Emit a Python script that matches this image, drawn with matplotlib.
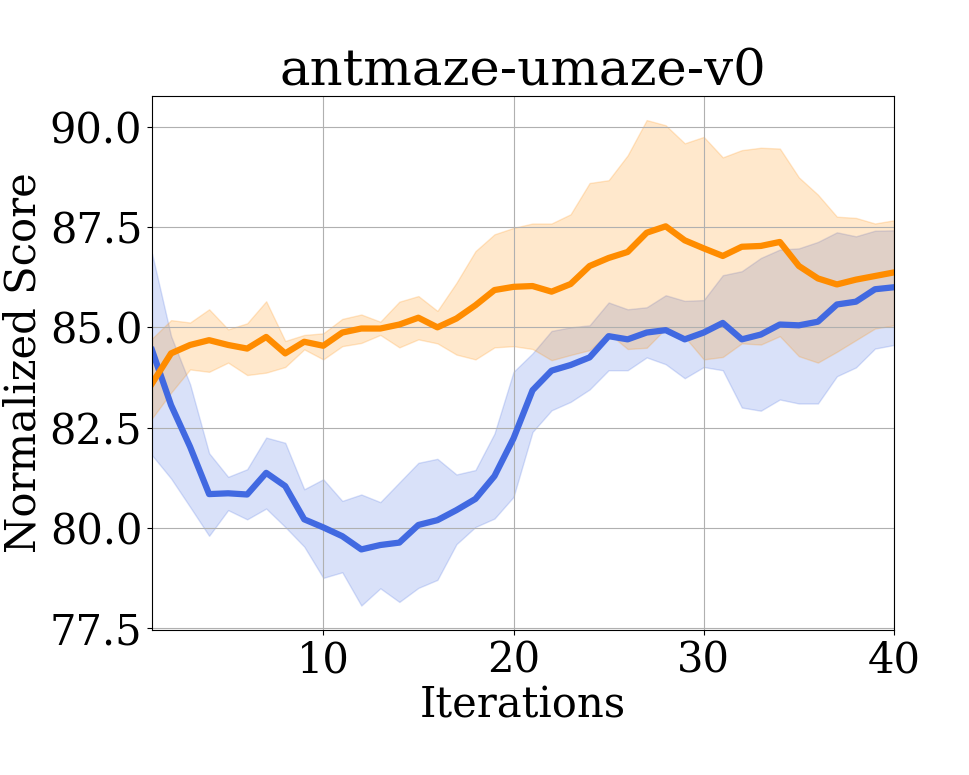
import matplotlib
matplotlib.use("Agg")
import matplotlib.pyplot as plt
import numpy as np

iterations = np.arange(1, 41)

# blue run: mean and band
blue_mean = [84.43, 83.06, 82.02, 80.84, 80.86, 80.83, 81.37, 81.04, 80.21, 80.01,
             79.79, 79.46, 79.57, 79.63, 80.07, 80.19, 80.44, 80.72, 81.29, 82.23,
             83.43, 83.92, 84.06, 84.25, 84.78, 84.70, 84.87, 84.93, 84.70, 84.87,
             85.11, 84.70, 84.82, 85.07, 85.05, 85.14, 85.57, 85.64, 85.95, 86.00]
blue_upper = [86.84, 84.78, 83.58, 81.86, 81.27, 81.46, 82.25, 82.12, 80.96, 81.21,
              80.67, 80.83, 80.64, 81.13, 81.62, 81.72, 81.33, 81.44, 82.35, 83.89,
              84.35, 84.91, 85.00, 85.05, 85.62, 85.45, 85.50, 85.80, 85.66, 85.68,
              86.30, 86.40, 86.73, 86.94, 86.97, 87.13, 87.37, 87.27, 87.41, 87.42]
blue_lower = [81.81, 81.23, 80.52, 79.80, 80.44, 80.21, 80.48, 80.02, 79.53, 78.75,
              78.89, 78.06, 78.49, 78.15, 78.50, 78.70, 79.59, 80.02, 80.23, 80.77,
              82.39, 82.93, 83.14, 83.45, 83.93, 83.93, 84.25, 84.08, 83.73, 84.01,
              83.93, 83.00, 82.92, 83.20, 83.10, 83.10, 83.78, 84.00, 84.47, 84.56]

# orange run: mean and band
orange_mean = [83.60, 84.35, 84.56, 84.68, 84.56, 84.47, 84.76, 84.35, 84.64, 84.54,
               84.87, 84.97, 84.97, 85.07, 85.24, 85.00, 85.22, 85.55, 85.93, 86.01,
               86.03, 85.89, 86.08, 86.53, 86.73, 86.88, 87.36, 87.52, 87.17, 86.97,
               86.78, 87.01, 87.03, 87.13, 86.53, 86.22, 86.07, 86.19, 86.28, 86.37]
orange_upper = [84.72, 85.18, 85.12, 85.45, 84.95, 85.10, 85.65, 84.66, 84.81, 84.85,
                85.21, 85.32, 85.14, 85.64, 85.78, 85.41, 86.11, 86.90, 87.32, 87.48,
                87.59, 87.59, 87.82, 88.60, 88.67, 89.29, 90.17, 90.04, 89.59, 89.75,
                89.24, 89.42, 89.48, 89.46, 88.74, 88.31, 87.76, 87.73, 87.59, 87.67]
orange_lower = [82.73, 83.37, 83.95, 83.89, 84.12, 83.81, 83.87, 84.01, 84.45, 84.20,
                84.53, 84.61, 84.81, 84.50, 84.70, 84.60, 84.32, 84.20, 84.50, 84.53,
                84.46, 84.18, 84.31, 84.43, 84.85, 84.46, 84.49, 84.97, 84.76, 84.20,
                84.26, 84.60, 84.57, 84.78, 84.28, 84.12, 84.39, 84.68, 84.97, 85.05]

plt.rcParams["font.family"] = "DejaVu Serif"

fig = plt.figure(figsize=(9.69, 7.75), dpi=100)
ax = fig.add_axes([0.1569, 0.1871, 0.7657, 0.689])

# bands first, lines on top
ax.fill_between(iterations, blue_lower, blue_upper, color="royalblue", alpha=0.2)
ax.fill_between(iterations, orange_lower, orange_upper, color="darkorange", alpha=0.2)
ax.plot(iterations, blue_mean, color="royalblue", linewidth=4.5)
ax.plot(iterations, orange_mean, color="darkorange", linewidth=4.5)

ax.set_xlim(1, 40)
ax.set_ylim(77.45, 90.77)
ax.set_xticks([10, 20, 30, 40])
ax.set_yticks([77.5, 80.0, 82.5, 85.0, 87.5, 90.0])
ax.grid(True)
ax.tick_params(labelsize=30)

ax.set_title("antmaze-umaze-v0", fontsize=37)
ax.set_xlabel("Iterations", fontsize=30, labelpad=2)
ax.set_ylabel("Normalized Score", fontsize=30, labelpad=4)

fig.savefig("out.png", dpi=100)
